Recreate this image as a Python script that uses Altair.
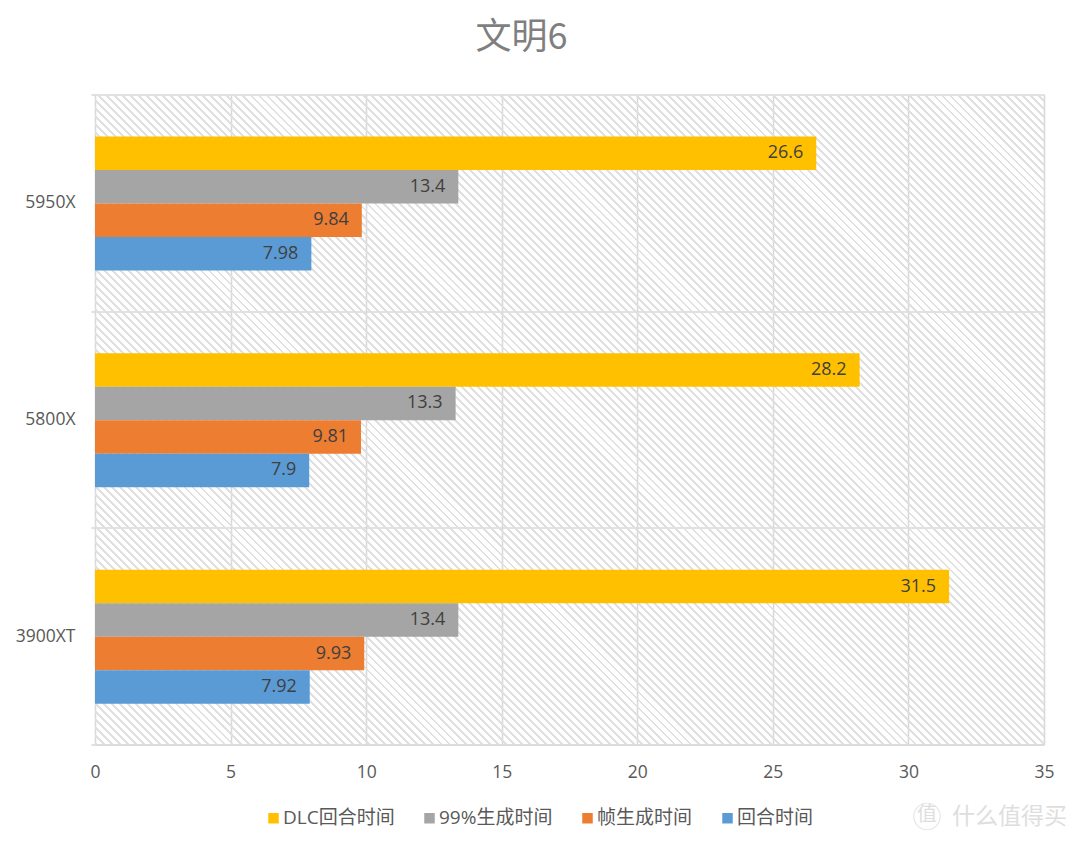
import altair as alt
import pandas as pd

categories = ["5950X", "5800X", "3900XT"]
series = ["DLC回合时间", "99%生成时间", "帧生成时间", "回合时间"]
colors = ["#FFC000", "#A5A5A5", "#ED7D31", "#5B9BD5"]
dlc_turn = [26.6, 28.2, 31.5]
p99_time = [13.4, 13.3, 13.4]
frame_time = [9.84, 9.81, 9.93]
turn_time = [7.98, 7.9, 7.92]
labels = [["26.6", "28.2", "31.5"], ["13.4", "13.3", "13.4"],
          ["9.84", "9.81", "9.93"], ["7.98", "7.9", "7.92"]]
watermark = "什么值得买"
watermark_badge = "值"

rows = []
for s, vals, labs in zip(series, [dlc_turn, p99_time, frame_time, turn_time], labels):
    for c, v, l in zip(categories, vals, labs):
        rows.append({"cat": c, "series": s, "value": v, "label": l})
df = pd.DataFrame(rows)

W, H = 949, 650
FONT = "Open Sans, Noto Sans CJK SC"
period = 8.0
line = 0.36
HATCH = "#e0e0e0"
GAP = "rgba(255,255,255,0)"
MARK = "#dedede"

# diagonal hatch drawn as a hard-stop gradient over the plot background
k = (W + H) / (W * W + H * H)
gx, gy = k * W, k * H
diag = (W + H) / 2 ** 0.5
n = int(diag / (period / 2 ** 0.5))
stops = []
for i in range(n):
    a = i / n
    b = (i + line) / n
    c = (i + 1) / n
    stops += [
        alt.GradientStop(offset=a, color=HATCH),
        alt.GradientStop(offset=b, color=HATCH),
        alt.GradientStop(offset=b, color=GAP),
        alt.GradientStop(offset=c, color=GAP),
    ]
hatch = alt.LinearGradient(gradient="linear", stops=stops, x1=0, y1=1, x2=gx, y2=1 - gy)

y_enc = alt.Y("cat:N", sort=categories, scale=alt.Scale(paddingInner=0, paddingOuter=0),
              axis=alt.Axis(title=None, tickBand="extent", grid=True, gridColor="#d9d9d9", gridWidth=1.6,
                            domain=False, ticks=True, tickColor="#d9d9d9", tickSize=4, tickWidth=1.6,
                            labelColor="#595959", labelFont=FONT, labelFontSize=17.5, labelPadding=16,
                            labelAngle=0))
x_enc = alt.X("value:Q", scale=alt.Scale(domain=[0, 35], nice=False),
              axis=alt.Axis(title=None, values=[0, 5, 10, 15, 20, 25, 30, 35], grid=True, gridColor="#d9d9d9",
                            gridWidth=1.6, domain=True, domainColor="#d9d9d9", domainWidth=1.6, ticks=False,
                            labelColor="#595959", labelFont=FONT, labelFontSize=17.5, labelPadding=19,
                            labelAngle=0, labelFlush=False))
y_off = alt.YOffset("series:N", sort=series, scale=alt.Scale(range=[42, 176], paddingInner=0, paddingOuter=0))

one = pd.DataFrame({"a": [0]})
back = alt.Chart(one).mark_rect(fill=hatch).encode(
    x=alt.value(0), x2=alt.value(W), y=alt.value(0), y2=alt.value(H))

bars = alt.Chart(df).mark_bar(cornerRadius=0).encode(
    x=x_enc,
    y=y_enc,
    yOffset=y_off,
    color=alt.Color("series:N", sort=series, scale=alt.Scale(domain=series, range=colors),
                    legend=alt.Legend(title=None, orient="none", legendX=169, legendY=714, direction="horizontal",
                                      symbolType="square", symbolSize=110, symbolStrokeWidth=0, labelFont=FONT,
                                      labelFontSize=19, labelColor="#595959", columnPadding=25, labelOffset=0,
                                      columns=4)),
)
text = alt.Chart(df).mark_text(align="right", baseline="middle", dx=-13, font=FONT, fontSize=18, color="#404040").encode(
    x=x_enc,
    y=y_enc,
    yOffset=y_off,
    text="label:N",
)
wm_text = alt.Chart(one).mark_text(text=watermark, align="left", baseline="middle", font="Noto Sans CJK SC",
                                   fontSize=23, color=MARK).encode(x=alt.value(857), y=alt.value(722))
wm_badge = alt.Chart(one).mark_text(text=watermark_badge, align="center", baseline="middle", font="Noto Sans CJK SC",
                                    fontSize=20, color=MARK).encode(x=alt.value(832), y=alt.value(720))
wm_ring = alt.Chart(one).mark_point(shape="circle", size=700, filled=False, color=MARK, strokeWidth=1.2).encode(
    x=alt.value(832), y=alt.value(722))

chart = alt.layer(back, bars, text, wm_text, wm_badge, wm_ring).properties(
    width=W,
    height=H,
    padding={"left": 87, "top": 86.5, "right": 27, "bottom": 97},
    autosize=alt.AutoSizeParams(type="none"),
    title=alt.TitleParams("文明6", font="Noto Sans CJK SC", fontSize=36, fontWeight="normal", color="#7f7f7f",
                          anchor="middle", dx=-48, offset=1, baseline="alphabetic"),
).configure_view(strokeWidth=0)

chart.save("out.html", embed_options={"renderer": "svg", "actions": False})
